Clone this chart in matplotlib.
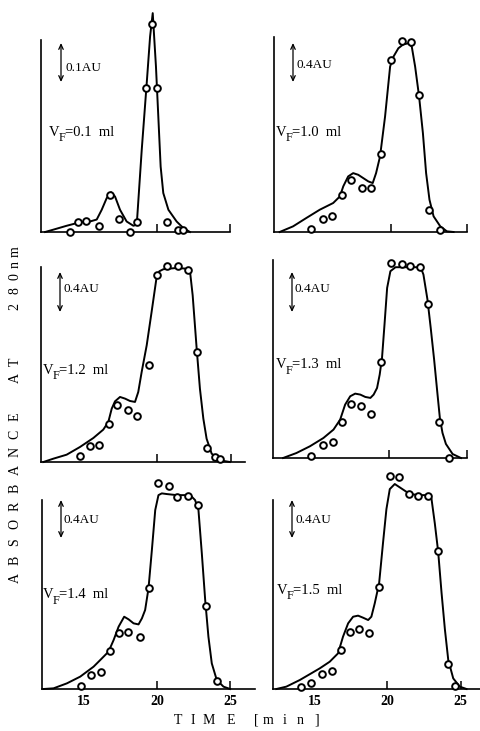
import matplotlib
matplotlib.use("Agg")
import matplotlib.pyplot as plt
from matplotlib.patches import FancyArrowPatch

plt.rcParams["font.family"] = ["Liberation Serif", "DejaVu Serif"]

W, H = 481, 731

# ---- data: time [min], absorbance [AU] ----
labels = ["0.1", "1.0", "1.2", "1.3", "1.4", "1.5"]
scale_bars = ["0.1AU", "0.4AU", "0.4AU", "0.4AU", "0.4AU", "0.4AU"]

pts_x_1 = [14.09, 14.66, 15.18, 16.09, 16.82, 17.45, 18.18, 18.68, 19.25, 19.66, 20.00, 20.68, 21.43, 21.77]
pts_y_1 = [0.000, 0.026, 0.029, 0.015, 0.096, 0.033, 0.000, 0.026, 0.369, 0.534, 0.369, 0.025, 0.006, 0.006]
line_x_1 = [12.39, 12.95, 13.86, 14.77, 15.45, 15.91, 16.25, 16.59, 16.89, 17.16, 17.50, 17.95, 18.41,
            18.64, 18.98, 19.32, 19.55, 19.73, 19.95, 20.11, 20.27, 20.45, 20.80, 21.36, 21.82, 22.27]
line_y_1 = [0.000, 0.006, 0.016, 0.025, 0.027, 0.032, 0.057, 0.087, 0.102, 0.091, 0.057, 0.027, 0.016,
            0.019, 0.211, 0.382, 0.502, 0.562, 0.425, 0.297, 0.168, 0.100, 0.057, 0.027, 0.010, 0.000]

pts_x_2 = [14.80, 15.53, 16.16, 16.82, 17.39, 18.09, 18.71, 19.36, 20.02, 20.72, 21.32, 21.86, 22.52, 23.20]
pts_y_2 = [0.034, 0.137, 0.168, 0.383, 0.537, 0.451, 0.451, 0.800, 1.768, 1.963, 1.956, 1.409, 0.229, 0.024]
line_x_2 = [12.72, 13.60, 14.47, 15.35, 16.23, 16.67, 16.89, 17.21, 17.54, 17.87, 18.20, 18.53, 18.82, 19.04,
            19.30, 19.63, 19.96, 20.18, 20.50, 20.83, 21.16, 21.38, 21.60, 21.86, 22.11, 22.32, 22.54, 22.81,
            23.25, 23.68, 24.12]
line_y_2 = [0.000, 0.058, 0.144, 0.229, 0.298, 0.366, 0.469, 0.571, 0.605, 0.588, 0.554, 0.520, 0.503, 0.605,
            0.776, 1.187, 1.700, 1.802, 1.888, 1.929, 1.939, 1.905, 1.700, 1.392, 1.016, 0.605, 0.332, 0.161,
            0.058, 0.007, 0.000]

pts_x_3 = [14.83, 15.51, 16.13, 16.79, 17.35, 18.09, 18.65, 19.48, 20.00, 20.72, 21.42, 22.13, 22.70, 23.37, 23.93, 24.27]
pts_y_3 = [0.058, 0.164, 0.178, 0.393, 0.581, 0.530, 0.469, 0.999, 1.915, 2.008, 2.011, 1.967, 1.129, 0.144, 0.048, 0.034]
line_x_3 = [12.36, 13.03, 13.93, 14.83, 15.73, 16.40, 16.74, 16.97, 17.19, 17.53, 17.87, 18.20, 18.54, 18.76,
            18.99, 19.33, 19.66, 20.00, 20.18, 20.45, 20.90, 21.35, 21.91, 22.25, 22.43, 22.70, 22.92, 23.15,
            23.37, 23.71, 24.27, 24.94]
line_y_3 = [0.000, 0.034, 0.075, 0.154, 0.246, 0.332, 0.410, 0.547, 0.622, 0.667, 0.650, 0.626, 0.616, 0.718,
            0.923, 1.197, 1.539, 1.898, 1.956, 1.977, 1.984, 1.990, 1.984, 1.956, 1.710, 1.163, 0.752, 0.445,
            0.239, 0.086, 0.017, 0.000]

pts_x_4 = [14.94, 15.69, 16.34, 16.93, 17.53, 18.16, 18.83, 19.48, 20.13, 20.78, 21.32, 21.97, 22.51, 23.20, 23.85]
pts_y_4 = [0.024, 0.130, 0.161, 0.366, 0.557, 0.530, 0.455, 0.985, 2.001, 1.984, 1.967, 1.956, 1.583, 0.369, 0.000]
line_x_4 = [13.14, 14.00, 14.87, 15.74, 16.39, 16.82, 17.14, 17.47, 17.79, 18.12, 18.44, 18.77, 18.98, 19.20,
            19.37, 19.52, 19.68, 19.85, 20.06, 20.39, 21.15, 22.01, 22.19, 22.45, 22.66, 22.88, 23.10, 23.25,
            23.42, 23.64, 24.07, 24.61]
line_y_4 = [0.000, 0.051, 0.120, 0.205, 0.291, 0.393, 0.547, 0.633, 0.660, 0.650, 0.626, 0.616, 0.650, 0.718,
            0.855, 1.026, 1.368, 1.744, 1.915, 1.956, 1.956, 1.956, 1.881, 1.625, 1.334, 1.009, 0.650, 0.410,
            0.257, 0.144, 0.041, 0.000]

pts_x_5 = [14.84, 15.52, 16.20, 16.77, 17.45, 18.02, 18.82, 19.43, 20.05, 20.80, 21.36, 22.16, 22.80, 23.36, 24.09]
pts_y_5 = [0.034, 0.144, 0.178, 0.393, 0.578, 0.588, 0.537, 1.033, 2.117, 2.083, 1.973, 1.980, 1.888, 0.852, 0.082]
line_x_5 = [12.27, 12.95, 13.86, 14.77, 15.68, 16.14, 16.70, 17.05, 17.39, 17.77, 18.07, 18.41, 18.75, 18.98,
            19.20, 19.43, 19.66, 19.89, 20.11, 20.34, 20.68, 21.36, 22.05, 22.39, 22.61, 22.84, 23.07, 23.30,
            23.52, 23.75, 24.09, 24.55, 25.00]
line_y_5 = [0.000, 0.007, 0.058, 0.127, 0.229, 0.298, 0.383, 0.503, 0.640, 0.742, 0.715, 0.674, 0.663, 0.725,
            0.811, 1.033, 1.426, 1.837, 1.990, 2.008, 2.001, 1.990, 1.990, 1.973, 1.939, 1.837, 1.392, 0.913,
            0.537, 0.263, 0.092, 0.024, 0.000]

pts_x_6 = [14.11, 14.79, 15.53, 16.21, 16.80, 17.42, 18.06, 18.72, 19.43, 20.16, 20.80, 21.48, 22.10, 22.79,
           23.47, 24.16, 24.61]
pts_y_6 = [0.024, 0.065, 0.154, 0.188, 0.400, 0.588, 0.612, 0.571, 1.050, 2.185, 2.172, 2.001, 1.980, 1.980,
           1.416, 0.257, 0.031]
line_x_6 = [12.40, 13.08, 14.00, 14.79, 15.37, 16.05, 16.62, 16.96, 17.31, 17.65, 17.99, 18.33, 18.68, 18.90,
            19.13, 19.43, 19.70, 19.93, 20.16, 20.50, 20.84, 21.19, 21.53, 22.21, 22.79, 23.01, 23.24, 23.47,
            23.70, 23.93, 24.16, 24.50, 24.95, 25.41]
line_y_6 = [0.000, 0.024, 0.092, 0.161, 0.212, 0.280, 0.366, 0.537, 0.674, 0.742, 0.753, 0.732, 0.708, 0.742,
            0.879, 1.085, 1.505, 1.847, 2.052, 2.104, 2.070, 2.035, 2.001, 1.990, 1.990, 1.956, 1.700, 1.409,
            0.989, 0.612, 0.298, 0.109, 0.024, 0.000]

points_x = [pts_x_1, pts_x_2, pts_x_3, pts_x_4, pts_x_5, pts_x_6]
points_y = [pts_y_1, pts_y_2, pts_y_3, pts_y_4, pts_y_5, pts_y_6]
lines_x = [line_x_1, line_x_2, line_x_3, line_x_4, line_x_5, line_x_6]
lines_y = [line_y_1, line_y_2, line_y_3, line_y_4, line_y_5, line_y_6]

tick_values = [15, 20, 25]
ylabel_chars = list("ABSORBANCEAT280nm")
xlabel_chars = list("TIME[min]")

# ---- layout (pixels: left, right, top, bottom) ----
boxes = [(41, 230, 40, 232), (274, 467, 37, 232),
         (41, 245, 267, 462), (273, 467, 260, 458),
         (42, 255, 500, 689), (273, 481, 500, 689)]
xlims = [(12.11, 25.0), (12.35, 25.0), (12.2, 25.96), (12.49, 25.0), (12.16, 26.7), (12.17, 26.4)]
ytops = [0.493, 2.004, 2.0, 2.03, 1.94, 1.94]
arrows = [(61, 43, 82), (293, 43, 82), (60, 272, 312), (292, 272, 312), (61, 500, 538), (292, 500, 538)]
bar_text = [(66, 68), (297, 65), (64, 289), (295, 289), (64, 520), (296, 520)]
vf_text = [(49, 132), (276, 132), (43, 370), (276, 365), (43, 595), (277, 590)]
ylabel_pos = [578, 560, 542, 524, 506, 488, 470, 452, 434, 417, 378, 362, 306, 291, 277, 264, 252]
xlabel_pos = [178, 193, 209, 231, 256, 268, 285, 300, 317]


def fx(px):
    return px / W


def fy(py):
    return 1 - py / H


fig = plt.figure(figsize=(W / 100, H / 100), dpi=100)

for i in range(6):
    l, r, t, b = boxes[i]
    ax = fig.add_axes([fx(l), fy(b), (r - l) / W, (b - t) / H])
    ax.plot(lines_x[i], lines_y[i], color="black", lw=1.4, clip_on=False, zorder=2)
    ax.plot(points_x[i], points_y[i], "o", ms=4.8, mfc="white", mec="black", mew=1.4,
            clip_on=False, zorder=3)
    ax.set_xlim(*xlims[i])
    ax.set_ylim(0, ytops[i])
    for side in ["top", "right"]:
        ax.spines[side].set_visible(False)
    ax.spines["left"].set_linewidth(1.2)
    ax.spines["bottom"].set_linewidth(1.2)
    ax.set_yticks([])
    ax.set_xticks(tick_values)
    ax.tick_params(axis="x", direction="in", length=6, width=1.1, pad=4)
    ax.xaxis.get_major_ticks()[0].tick1line.set_visible(False)
    if i >= 4:
        ax.set_xticklabels([str(v) for v in tick_values], fontsize=10, fontweight="bold")
    else:
        ax.set_xticklabels([])

    ax_x, y0, y1 = arrows[i]
    fig.add_artist(FancyArrowPatch((fx(ax_x), fy(y1)), (fx(ax_x), fy(y0)),
                                   transform=fig.transFigure,
                                   arrowstyle="<->,head_length=3.5,head_width=1.6",
                                   lw=0.9, color="black", shrinkA=0, shrinkB=0))
    tx, ty = bar_text[i]
    fig.text(fx(tx), fy(ty), scale_bars[i], fontsize=9.5, va="center", ha="left")

    # V with a lowered F, then the volume
    vx, vy = vf_text[i]
    fig.text(fx(vx), fy(vy), "V", fontsize=10.5, va="center", ha="left")
    fig.text(fx(vx + 9.5), fy(vy + 6), "F", fontsize=9, va="center", ha="left")
    fig.text(fx(vx + 16), fy(vy), "=" + labels[i] + "  ml", fontsize=10.5,
             va="center", ha="left")

for ch, py in zip(ylabel_chars, ylabel_pos):
    fig.text(fx(15), fy(py), ch, rotation=90, fontsize=10, ha="center", va="center")
for ch, px in zip(xlabel_chars, xlabel_pos):
    fig.text(fx(px), fy(720), ch, fontsize=10, ha="center", va="center")

fig.savefig("out.png", dpi=100)
